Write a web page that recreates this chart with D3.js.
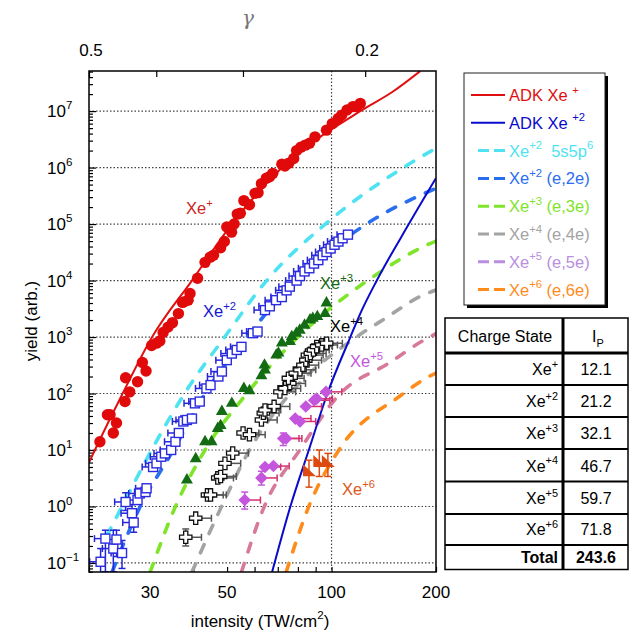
<!DOCTYPE html>
<html>
<head>
<meta charset="utf-8">
<script src="https://cdn.jsdelivr.net/npm/d3@7"></script>
<style>
  body { margin: 0; background: #fff; }
  svg { font-family: "Liberation Sans", Arial, sans-serif; }
</style>
</head>
<body>
<div id="chart"></div>
<script>
// theory curves: [intensity (TW/cm2), yield]
const adkXe1 = [[20, 6], [20.8, 10], [25, 100], [30.4, 1e3], [39.6, 1e4], [51.6, 1e5], [72, 1e6], [121, 1e7], [150, 2.2e7], [180, 5.1e7]];
const adkXe2 = [[67.4, 0.069], [76.1, 1], [86, 10], [97.3, 100], [113.3, 1e3], [121, 2600], [135, 1e4], [167, 1e5], [200, 6.5e5]];
const xe2Shell = [[22.5, 0.3], [24.9, 1], [30.3, 10], [37.7, 100], [49.2, 1e3], [65, 1e4], [96, 1e5], [161, 1e6], [200, 2.2e6]];
const xe2e2e = [[23.3, 0.069], [28.1, 1], [35, 10], [43.2, 100], [57, 1e3], [79, 1e4], [126, 1e5], [200, 4.3e5]];
const xe3e3e = [[30, 0.069], [35.5, 1], [43.2, 10], [57, 100], [80, 1e3], [127, 1e4], [189, 4.3e4], [200, 5e4]];
const xe4e4e = [[39.6, 0.069], [48.2, 1], [58, 10], [76, 100], [118, 1e3], [143, 2150], [182, 5400], [200, 6800]];
const xe5e5e = [[55, 0.069], [64, 1], [81, 10], [106, 100], [145.7, 340], [185, 890], [200, 1150]];
const xe6e6e = [[74, 0.069], [86, 1], [105, 10], [159, 94], [188, 190], [200, 230]];

// measured yields: [intensity, yield, (yLow, yHigh)]
const xe1Data = [[21.5, 14], [22.6, 42], [23.0, 42], [24.0, 30], [23.5, 20], [25.4, 72], [26.2, 107], [25.5, 190], [27.6, 162],
  [28.5, 355], [29.2, 250], [30.3, 710], [31.3, 780], [32.0, 850], [32.7, 1200], [33.8, 1500], [34.8, 1800], [36.2, 2600],
  [37.2, 4100], [38.6, 4500], [37.6, 4200], [39.1, 5900], [41.1, 1.1e4], [43.2, 2.1e4], [44.7, 2.6e4], [45.7, 2.8e4],
  [47.9, 3.8e4], [49.1, 4.9e4], [49.9, 8.9e4], [51.5, 7.2e4], [52.4, 1.0e5], [53.5, 1.5e5], [54.6, 1.55e5], [55.9, 2.6e5],
  [58.0, 2.2e5], [60.2, 3.5e5], [61.4, 3.6e5], [62.8, 5.2e5], [64.9, 6.5e5], [66.3, 6.9e5], [67.7, 7.9e5], [71.9, 1.15e6],
  [73.4, 1.07e6], [75.3, 1.2e6], [77.8, 1.45e6], [79.3, 2.0e6], [81.6, 2.3e6], [84.0, 2.5e6], [86.4, 2.7e6], [89.6, 3.5e6],
  [96.7, 4.6e6], [100.5, 6.0e6], [104.5, 7.4e6], [107, 8.5e6], [110.8, 1.05e7], [115.2, 1.2e7], [118.1, 1.2e7], [121, 1.37e7]];
const xe2Data = [[21.6, 0.105, 0.04, 0.18], [22.3, 0.27, 0.07, 0.38], [23.5, 0.18, 0.07, 0.38], [24.0, 0.26, 0.13, 0.38],
  [24.9, 0.15, 0.08, 0.25], [25.5, 1.2, 0.85, 1.75], [26.6, 0.76, 0.43, 1.08], [26.9, 0.52, 0.35, 0.7], [27.6, 1.3], [28.0, 1.7],
  [29.1, 1.8], [29.3, 2.1], [30.6, 5.0], [31.3, 5.8], [32.3, 7.6], [33.1, 8.7], [34.5, 10], [35.5, 14], [36.3, 20], [37.4, 32],
  [38.3, 34], [39.6, 36], [40.4, 67], [41.7, 72], [43.6, 123], [44.8, 141], [47.2, 200], [48.3, 245], [49.9, 390], [51.6, 510],
  [53.3, 590], [55.0, 670], [59.3, 1170], [61.2, 1250], [64.3, 3000], [66.4, 3500], [69.2, 4500], [71.9, 5100], [74.2, 6700],
  [75.8, 7800], [79.3, 1.0e4], [81.1, 1.2e4], [83.6, 1.45e4], [86.3, 1.65e4], [89.0, 2.0e4], [91.6, 2.3e4], [94.3, 2.8e4],
  [96.7, 3.2e4], [99.4, 3.7e4], [102, 4.3e4], [104.7, 4.9e4], [107.6, 5.6e4], [111.5, 6.5e4]];
const xe3Data = [[38.3, 2.95], [40.6, 7.0], [43.2, 14], [45.1, 14], [47.0, 24], [47.9, 27], [48.3, 48], [51.6, 67], [55.9, 123],
  [58, 112], [62.8, 205], [64.3, 260], [64.1, 318], [69.3, 480], [70.3, 520], [71.9, 780], [75.9, 830], [76.8, 1020], [79.2, 1170],
  [81, 1320], [83.6, 1620], [86.7, 2000], [88.3, 2140], [91, 2300], [95.8, 2600], [96.7, 4000]];
const xe4Data = [[38.0, 0.285, 0.2, 0.4], [40.6, 0.62], [43.9, 1.6], [44.8, 1.6], [47, 3.2], [47.9, 3.4], [49.3, 5.8], [51.9, 8.8],
  [55.6, 20], [58, 18.7], [62.8, 34], [63.6, 45], [64.3, 51], [68.3, 59], [71, 107], [73.4, 123], [75.8, 151], [75.1, 186],
  [78.6, 229], [81.1, 263], [82.7, 318], [84.3, 389], [85.2, 479], [86.9, 513], [88.7, 589], [90.6, 676], [93.7, 724], [96.8, 776]];
const xe5Data = [[56.2, 1.3, 0.9, 1.8], [62.8, 3.2, 2.4, 4.2], [64.3, 5.0], [68, 5.2], [72.6, 16, 12, 20], [74, 16], [78.6, 36],
  [81.1, 32], [84.3, 59], [89.1, 76], [90.6, 81], [96.4, 107]];
const xe6Data = [[86.1, 4.4, 2.2, 6.6], [92.2, 6.4, 3.4, 10], [97.6, 6.4, 3.4, 8.7]];
// intensity error ratios (one-sided bars)
const xe2XErr = 0.93, xe4XErr = 1.11, xe5XErr = 1.11;

// axes
const yDecades = [-1, 0, 1, 2, 3, 4, 5, 6, 7];
const xTicks = [20, 30, 40, 50, 60, 70, 80, 90, 100, 200];
const xLabels = [30, 50, 100, 200];
const gammaTicks = [0.5, 0.4, 0.3, 0.2];
const gammaLabels = ["0.5", "0.2"];

// table
const chargeStates = ["+", "+2", "+3", "+4", "+5", "+6"];
const ionPotentials = [12.1, 21.2, 32.1, 46.7, 59.7, 71.8];

const svg = d3.select("#chart").append("svg").attr("width", 631).attr("height", 633);

const x = d3.scaleLog().domain([20, 200]).range([89, 436]);
const y = d3.scaleLog().domain([Math.pow(10, -1.16), Math.pow(10, 7.71)]).range([572, 71]);
const gam = d3.scaleLog().domain([0.5, 0.5 / Math.sqrt(10)]).range([89, 436]);

svg.append("clipPath").attr("id", "plot")
  .append("rect").attr("x", 89).attr("y", 71).attr("width", 347).attr("height", 501);

// grid
const grid = svg.append("g").attr("stroke", "#444").attr("stroke-width", 1.2).attr("stroke-dasharray", "1.5,2");
grid.selectAll("line.h").data(yDecades).join("line")
  .attr("x1", 89).attr("x2", 436)
  .attr("y1", d => y(Math.pow(10, d))).attr("y2", d => y(Math.pow(10, d)));
grid.append("line").attr("x1", x(100)).attr("x2", x(100)).attr("y1", 71).attr("y2", 572);

// axes ticks (inward)
const minor = [];
yDecades.concat([-2]).forEach(d => { for (let k = 2; k < 10; k++) minor.push(k * Math.pow(10, d)); });
const yMinor = minor.filter(v => v > y.domain()[0] && v < y.domain()[1]);

svg.append("g").attr("transform", "translate(89,0)")
  .call(d3.axisLeft(y).tickValues(yDecades.map(d => Math.pow(10, d))).tickSize(-7).tickFormat(""))
  .call(a => a.select(".domain").remove());
svg.append("g").attr("transform", "translate(89,0)")
  .call(d3.axisLeft(y).tickValues(yMinor).tickSize(-4).tickFormat(""))
  .call(a => a.select(".domain").remove());
svg.append("g").attr("transform", "translate(0,572)")
  .call(d3.axisBottom(x).tickValues(xTicks).tickSize(-5).tickFormat(""))
  .call(a => a.select(".domain").remove());
svg.append("g").attr("transform", "translate(0,71)")
  .call(d3.axisTop(gam).tickValues(gammaTicks).tickSize(-6).tickFormat(""))
  .call(a => a.select(".domain").remove());
svg.selectAll(".tick line").attr("stroke", "#000").attr("stroke-width", 1.2);

// text with superscripts: parts = [[text, isSup], ...]
function rich(parent, px, py, parts, size, color, anchor) {
  const t = parent.append("text").attr("x", px).attr("y", py)
    .attr("font-size", size).attr("fill", color).attr("text-anchor", anchor || "start");
  let shift = 0;
  parts.forEach(([s, sup]) => {
    const s2 = sup ? -0.45 * size : 0;
    t.append("tspan").attr("dy", s2 - shift).attr("font-size", sup ? size * 0.68 : size).text(s);
    shift = s2;
  });
  return t;
}

// tick labels
yDecades.forEach(d => rich(svg, 47, y(Math.pow(10, d)) + 6, [["10"], [String(d).replace("-", "\u2212"), true]], 17, "#000"));
svg.selectAll("text.xl").data(xLabels).join("text")
  .attr("x", d => x(d)).attr("y", 598).attr("text-anchor", "middle")
  .attr("font-size", 17).text(d => d);
svg.selectAll("text.gl").data(gammaLabels).join("text")
  .attr("x", d => gam(+d) + 2).attr("y", 56).attr("text-anchor", "middle")
  .attr("font-size", 17).text(d => d);

// axis titles
svg.append("text").attr("x", 248).attr("y", 25).attr("text-anchor", "middle")
  .attr("font-family", "DejaVu Serif").attr("font-style", "italic").attr("font-size", 20).attr("fill", "#777").text("\u03b3");
rich(svg, 260, 627, [["intensity (TW/cm"], ["2", true], [")"]], 17, "#000", "middle");
svg.append("text").attr("transform", "translate(37,321) rotate(-90)").attr("text-anchor", "middle")
  .attr("font-size", 17).text("yield (arb.)");

// curves
const plot = svg.append("g").attr("clip-path", "url(#plot)");
const line = d3.line().x(d => x(d[0])).y(d => y(d[1])).curve(d3.curveMonotoneX);
const dashed = [
  [xe2Shell, "#4fe3f2"], [xe2e2e, "#2a6ef0"], [xe3e3e, "#7fe52a"], [xe4e4e, "#a3a3a3"],
  [xe5e5e, "#d8799b"], [xe6e6e, "#ff8c1a"]
];
plot.selectAll("path.dash").data(dashed).join("path")
  .attr("d", d => line(d[0])).attr("fill", "none").attr("stroke", d => d[1])
  .attr("stroke-width", 3.6).attr("stroke-dasharray", "9,12").attr("stroke-linecap", "round");
plot.append("path").attr("d", line(adkXe1)).attr("fill", "none").attr("stroke", "#e01010").attr("stroke-width", 2);
plot.append("path").attr("d", line(adkXe2)).attr("fill", "none").attr("stroke", "#0a0acc").attr("stroke-width", 2);

// error bar helper
function errBars(data, color, xRatio, cap) {
  const eg = plot.append("g").attr("stroke", color).attr("stroke-width", 1.5).attr("fill", "none");
  data.forEach(d => {
    const cx = x(d[0]), cy = y(d[1]);
    if (xRatio) {
      const ex = x(d[0] * xRatio);
      eg.append("line").attr("x1", cx).attr("x2", ex).attr("y1", cy).attr("y2", cy);
      eg.append("line").attr("x1", ex).attr("x2", ex).attr("y1", cy - cap).attr("y2", cy + cap);
    }
    if (d.length > 2) {
      const y1 = y(d[2]), y2 = y(d[3]);
      eg.append("line").attr("x1", cx).attr("x2", cx).attr("y1", y1).attr("y2", y2);
      eg.append("line").attr("x1", cx - cap).attr("x2", cx + cap).attr("y1", y1).attr("y2", y1);
      eg.append("line").attr("x1", cx - cap).attr("x2", cx + cap).attr("y1", y2).attr("y2", y2);
    }
  });
}

// Xe+
plot.selectAll("circle.xe1").data(xe1Data).join("circle")
  .attr("cx", d => x(d[0])).attr("cy", d => y(d[1])).attr("r", 5.7).attr("fill", "#e00a0a");

// Xe+2
errBars(xe2Data, "#2525d8", xe2XErr, 3.5);
plot.selectAll("rect.xe2").data(xe2Data).join("rect")
  .attr("x", d => x(d[0]) - 4.5).attr("y", d => y(d[1]) - 4.5).attr("width", 9).attr("height", 9)
  .attr("fill", "#fff").attr("stroke", "#2a2ae0").attr("stroke-width", 1.4);

// Xe+3
plot.selectAll("path.xe3").data(xe3Data).join("path")
  .attr("transform", d => `translate(${x(d[0])},${y(d[1])})`)
  .attr("d", d3.symbol(d3.symbolTriangle, 62)).attr("fill", "#136b13");

// Xe+4
errBars(xe4Data, "#555", xe4XErr, 3.5);
plot.selectAll("path.xe4").data(xe4Data).join("path")
  .attr("transform", d => `translate(${x(d[0])},${y(d[1])})`)
  .attr("d", d3.symbol(d3.symbolCross, 85)).attr("fill", "#fff").attr("stroke", "#111").attr("stroke-width", 1.3);

// Xe+5
errBars(xe5Data.map(d => d.slice(0, 2)), "#d4306c", xe5XErr, 3.5);
errBars(xe5Data.filter(d => d.length > 2).map(d => [d[0], d[1], d[2], d[3]]), "#c455dd", null, 3.5);
plot.selectAll("path.xe5").data(xe5Data).join("path")
  .attr("transform", d => `translate(${x(d[0])},${y(d[1])}) rotate(45)`)
  .attr("d", d3.symbol(d3.symbolSquare, 80)).attr("fill", "#c455dd");

// Xe+6
errBars(xe6Data, "#dd4a0f", null, 3.5);
plot.selectAll("path.xe6").data(xe6Data).join("path")
  .attr("transform", d => `translate(${x(d[0])},${y(d[1])})`)
  .attr("d", "M-6,-6L-6,6L7,6Z").attr("fill", "#dd4a0f");

// frame
svg.append("rect").attr("x", 89).attr("y", 71).attr("width", 347).attr("height", 501)
  .attr("fill", "none").attr("stroke", "#000").attr("stroke-width", 1.5);

// in-plot labels
rich(svg, 186, 214, [["Xe"], ["+", true]], 16.5, "#cc2222");
rich(svg, 203, 317, [["Xe"], ["+2", true]], 16.5, "#1515d0");
rich(svg, 320, 289, [["Xe"], ["+3", true]], 16.5, "#136b13");
rich(svg, 330, 332, [["Xe"], ["+4", true]], 16.5, "#000");
rich(svg, 350, 367, [["Xe"], ["+5", true]], 16.5, "#c455dd");
rich(svg, 342, 495, [["Xe"], ["+6", true]], 16.5, "#e0561a");

// legend
const legendItems = [
  { parts: [["ADK Xe "], ["+", true]], color: "#e01010", dash: false },
  { parts: [["ADK Xe "], ["+2", true]], color: "#0a0acc", dash: false },
  { parts: [["Xe"], ["+2", true], ["  5s5p"], ["6", true]], color: "#4fe3f2", dash: true },
  { parts: [["Xe"], ["+2", true], [" (e,2e)"]], color: "#2a6ef0", dash: true },
  { parts: [["Xe"], ["+3", true], [" (e,3e)"]], color: "#7fe52a", dash: true },
  { parts: [["Xe"], ["+4", true], [" (e,4e)"]], color: "#a3a3a3", dash: true },
  { parts: [["Xe"], ["+5", true], [" (e,5e)"]], color: "#b98ee0", dash: true },
  { parts: [["Xe"], ["+6", true], [" (e,6e)"]], color: "#ff8c1a", dash: true }
];
const leg = svg.append("g");
leg.append("rect").attr("x", 467).attr("y", 76).attr("width", 141).attr("height", 232).attr("fill", "#000");
leg.append("rect").attr("x", 464).attr("y", 73).attr("width", 141).attr("height", 232)
  .attr("fill", "#fff").attr("stroke", "#222").attr("stroke-width", 1);
legendItems.forEach((it, i) => {
  const ly = 95 + i * 27.8;
  leg.append("line").attr("x1", it.dash ? 478 : 471).attr("x2", 505).attr("y1", ly).attr("y2", ly)
    .attr("stroke", it.color).attr("stroke-width", it.dash ? 3 : 2)
    .attr("stroke-dasharray", it.dash ? "11,5" : null);
  rich(leg, 509, ly + 6, it.parts, 16.5, it.color);
});
leg.selectAll("text").attr("xml:space", "preserve").style("white-space", "pre");

// table
const tb = svg.append("g");
const rowY = [318, 353, 385, 417, 449, 481.5, 514, 545, 569.5];
tb.append("rect").attr("x", 445).attr("y", 318).attr("width", 183).attr("height", 251.5)
  .attr("fill", "#fff").attr("stroke", "#000").attr("stroke-width", 1.5);
rowY.slice(1, -1).forEach((ry, i) => {
  tb.append("line").attr("x1", 445).attr("x2", 628).attr("y1", ry).attr("y2", ry)
    .attr("stroke", "#000").attr("stroke-width", i === 0 ? 3 : 2);
});
tb.append("line").attr("x1", 563).attr("x2", 563).attr("y1", 318).attr("y2", 569.5)
  .attr("stroke", "#000").attr("stroke-width", 3);
tb.append("text").attr("x", 505).attr("y", 342).attr("text-anchor", "middle").attr("font-size", 16).text("Charge State");
const ip = tb.append("text").attr("x", 592).attr("y", 342).attr("font-size", 16);
ip.append("tspan").text("I");
ip.append("tspan").attr("dy", 5).attr("font-size", 11).text("P");
chargeStates.forEach((c, i) => {
  const by = rowY[i + 2] - 10;
  rich(tb, 558, by, [["Xe"], [c, true]], 16, "#000", "end");
  tb.append("text").attr("x", 596).attr("y", by).attr("text-anchor", "middle").attr("font-size", 16)
    .text(ionPotentials[i].toFixed(1));
});
tb.append("text").attr("x", 558).attr("y", 563).attr("text-anchor", "end").attr("font-size", 16)
  .attr("font-weight", "bold").text("Total");
tb.append("text").attr("x", 596).attr("y", 563).attr("text-anchor", "middle").attr("font-size", 16)
  .attr("font-weight", "bold").text(d3.sum(ionPotentials).toFixed(1));
</script>
</body>
</html>
